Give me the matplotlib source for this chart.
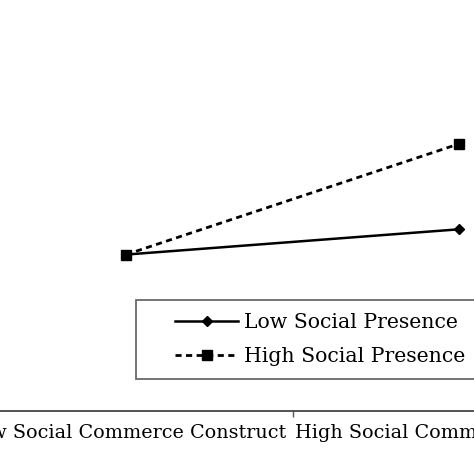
import matplotlib
matplotlib.use("Agg")
import matplotlib.pyplot as plt
from matplotlib.lines import Line2D
from matplotlib.legend_handler import HandlerLine2D

categories = ["Low Social Commerce Construct", "High Social Commerce Construct"]
low_presence = [3.6, 4.02]
high_presence = [3.6, 5.44]
series_names = ["Low Social Presence", "High Social Presence"]

plt.rcParams["font.family"] = ["DejaVu Serif"]
FS_LEG = 14.7
FS_AX = 13.8

fig = plt.figure(figsize=(4.74, 4.74), dpi=100)
W = H = 474.0
left_px = 126 - 333 * 0.5
ax = fig.add_axes([left_px / W, (H - 411) / H, 666 / W, 361 / H])

x = list(range(len(categories)))
ax.plot(x, low_presence, color="black", lw=1.8, marker="D", ms=5.3,
        label=series_names[0], zorder=3)
ax.plot(x, high_presence, color="black", lw=2.0, ls=(0, (2.2, 1.6)),
        marker="s", ms=7.8, label=series_names[1], zorder=4)

ax.set_xlim(-0.5, 1.5)
ax.set_ylim(1, 7)
ax.set_xticks(x)
ax.set_xticklabels(categories, fontsize=FS_AX)
ax.tick_params(axis="x", length=0, pad=9)
ax.set_xticks([0.5], minor=True)
ax.tick_params(axis="x", which="minor", length=4, width=1, color="#555555", direction="out")
ax.set_yticks([])
for s in ["top", "right", "left"]:
    ax.spines[s].set_visible(False)
ax.spines["bottom"].set_color("#444444")
ax.spines["bottom"].set_linewidth(1.3)

bp = 0.65
xpad = (175 - 136 - bp * FS_LEG * 100 / 72) / (FS_LEG * 100 / 72)
hlen = 63 / (FS_LEG * 100 / 72)
hm = {Line2D: HandlerLine2D(xpad=xpad)}
leg = fig.legend(handles=ax.get_lines(), loc="upper left",
                 bbox_to_anchor=(136 / W, 1 - 300 / H), bbox_transform=fig.transFigure,
                 borderaxespad=0, fontsize=FS_LEG, frameon=True, fancybox=False,
                 edgecolor="#444444", borderpad=bp, labelspacing=0.72,
                 handlelength=hlen + xpad, handletextpad=0.3, handler_map=hm)
leg.get_frame().set_linewidth(1.3)

fig.savefig("out.png", dpi=100)
